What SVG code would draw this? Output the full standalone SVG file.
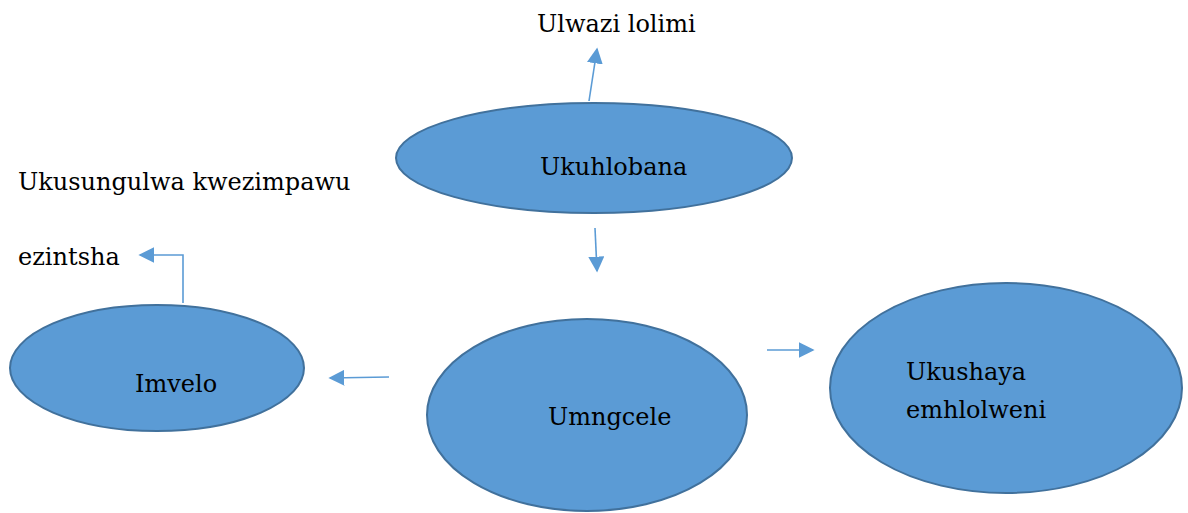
<svg xmlns="http://www.w3.org/2000/svg" width="1188" height="513" viewBox="0 0 1188 513">
<style>
.node{fill:#5B9BD5;stroke:#41719C;stroke-width:2}
.lbl{font-family:'DejaVu Serif','Liberation Serif',serif;font-size:24px;fill:#000}
.con{fill:none;stroke:#5B9BD5;stroke-width:1.6}
</style>
<defs>
<marker id="ah" viewBox="0 0 10 10" refX="9" refY="5" markerWidth="10" markerHeight="10" markerUnits="strokeWidth" orient="auto">
<path d="M0,0 L10,5 L0,10 Z" fill="#5B9BD5"/>
</marker>
</defs>
<rect width="1188" height="513" fill="#fff"/>
<g id="connectors">
<line class="con" x1="589" y1="101" x2="597" y2="49" marker-end="url(#ah)"/>
<line class="con" x1="595" y1="228" x2="597" y2="271" marker-end="url(#ah)"/>
<polyline class="con" points="183,303 183,255 140,255" marker-end="url(#ah)"/>
<line class="con" x1="389" y1="377" x2="330" y2="378" marker-end="url(#ah)"/>
<line class="con" x1="767" y1="350" x2="813" y2="350" marker-end="url(#ah)"/>
</g>
<g id="node-ukuhlobana">
<ellipse class="node" cx="594" cy="158" rx="198" ry="55"/>
<text class="lbl" x="540" y="175">Ukuhlobana</text>
</g>
<g id="node-imvelo">
<ellipse class="node" cx="157" cy="368" rx="147" ry="63"/>
<text class="lbl" x="135" y="392">Imvelo</text>
</g>
<g id="node-umngcele">
<ellipse class="node" cx="587" cy="415" rx="160" ry="96"/>
<text class="lbl" x="548" y="425">Umngcele</text>
</g>
<g id="node-ukushaya">
<ellipse class="node" cx="1006" cy="388" rx="176" ry="105"/>
<text class="lbl" x="906" y="380">Ukushaya</text>
<text class="lbl" x="906" y="418">emhlolweni</text>
</g>
<g id="text-ulwazi">
<text class="lbl" x="537" y="32">Ulwazi lolimi</text>
</g>
<g id="text-ukusungulwa">
<text class="lbl" x="18" y="190">Ukusungulwa kwezimpawu</text>
<text class="lbl" x="18" y="265">ezintsha</text>
</g>
</svg>
